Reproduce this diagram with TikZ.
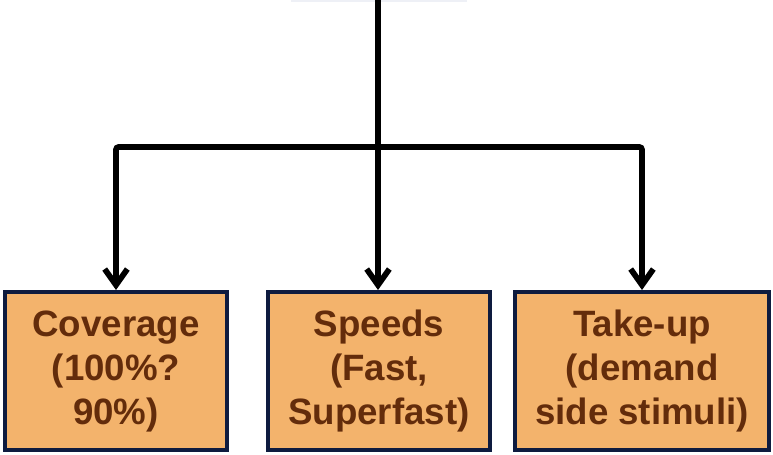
\documentclass[tikz,border=0pt]{standalone}
\usepackage{fontspec}
\setmainfont{Liberation Sans}
\usetikzlibrary{arrows.meta}
\definecolor{boxfill}{HTML}{F3B36C}
\definecolor{boxline}{HTML}{0E1B3F}
\definecolor{boxtext}{HTML}{632C0B}
\definecolor{faint}{HTML}{EEF0F6}
\tikzset{
  stage/.style={draw=boxline, line width=3pt, fill=boxfill,
    text=boxtext, font=\fontsize{27.5pt}{33pt}\selectfont\bfseries,
    align=center, minimum height=118.5pt, inner sep=0pt},
  conn/.style={line width=4.3pt, rounded corners=2pt,
    -{Straight Barb[length=12pt, width=17pt]}},
  trunk/.style={line width=4.3pt}
}
\begin{document}
\begin{tikzpicture}[x=0.75pt, y=-0.75pt]
  \useasboundingbox (0,0) rectangle (773,454);
  % faint strip at the top edge
  \fill[faint] (291,0) rectangle (467,1.5);
  % the three stages
  \node[stage, minimum width=166.5pt] (cov) at (116,371) {Coverage\\(100\%?\\90\%)};
  \node[stage, minimum width=166.5pt] (spd) at (379,371) {Speeds\\(Fast,\\Superfast)};
  \node[stage, minimum width=190.5pt] (tak) at (642,371) {Take-up\\(demand\\side stimuli)};
  % trunk and branches
  \coordinate (top) at (378,0);
  \coordinate (split) at (378,147);
  \draw[trunk] (top) -- (split);
  \draw[conn] (split) -| (cov.north);
  \draw[conn] (split) -- (split |- spd.north);
  \draw[conn] (split) -| (tak.north);
\end{tikzpicture}
\end{document}
